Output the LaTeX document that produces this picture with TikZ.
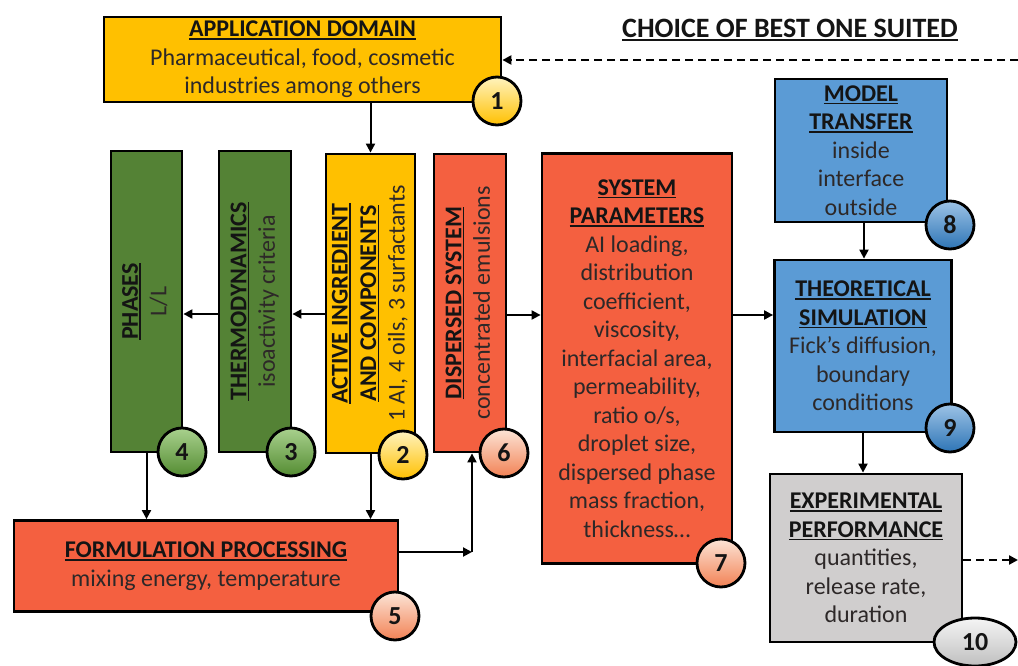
\documentclass[tikz,border=0pt]{standalone}
\usepackage{fontspec}
\usepackage{graphicx}
\setmainfont{Carlito}
\usetikzlibrary{arrows.meta,shapes.geometric}
\definecolor{gold}{RGB}{255,192,0}
\definecolor{goldL}{RGB}{255,243,190}
\definecolor{grn}{RGB}{84,130,53}
\definecolor{grnL}{RGB}{169,209,142}
\definecolor{grnD}{RGB}{84,140,50}
\definecolor{org}{RGB}{244,96,64}
\definecolor{orgL}{RGB}{252,228,214}
\definecolor{orgD}{RGB}{242,130,85}
\definecolor{blu}{RGB}{91,155,213}
\definecolor{bluL}{RGB}{157,195,230}
\definecolor{bluD}{RGB}{46,117,182}
\definecolor{gry}{RGB}{208,206,206}
\definecolor{gryL}{RGB}{245,245,245}
\definecolor{gryD}{RGB}{191,191,191}
\definecolor{bodytxt}{RGB}{45,40,40}
\definecolor{hdtxt}{RGB}{20,20,20}
\newcommand{\bodyfont}{\fontsize{24}{28.5}\selectfont}
\newcommand{\numfont}{\fontsize{26}{30}\selectfont\bfseries}
\newcommand{\hd}[1]{\leavevmode{\color{hdtxt}\setbox0=\hbox{\bfseries #1}\rlap{\rule[-3pt]{\wd0}{1.6pt}}\box0}}
\newcommand{\vt}[1]{\rotatebox{90}{\begin{tabular}{@{}c@{}}#1\end{tabular}}}
\tikzset{
  box/.style={draw=black, line width=2.8pt, inner sep=0pt, align=center, text=bodytxt, font=\bodyfont},
  numc/.style={circle, draw=black, line width=2.8pt, minimum size=48, inner sep=0pt, font=\numfont, text=hdtxt},
  arr/.style={line width=2pt, -{Triangle[length=9pt,width=9pt]}},
  darr/.style={line width=2.4pt, dash pattern=on 8pt off 5pt, -{Triangle[length=9pt,width=9pt]}}
}
\begin{document}
\begin{tikzpicture}[x=1pt,y=-1pt]
\useasboundingbox (0,0) rectangle (1018,666);
% boxes
\node[box, fill=gold, minimum width=397, minimum height=85] (app) at (302.5,59.5)
  {\hd{APPLICATION DOMAIN}\\Pharmaceutical, food, cosmetic\\industries among others};
\node[box, fill=grn, minimum width=71, minimum height=301] (phases) at (146.5,301.5)
  {\vt{\hd{PHASES}\\L/L}};
\node[box, fill=grn, minimum width=72, minimum height=301] (thermo) at (255,301.5)
  {\vt{\hd{THERMODYNAMICS}\\isoactivity criteria}};
\node[box, fill=gold, minimum width=89, minimum height=299] (active) at (370.5,303.5)
  {\vt{\hd{ACTIVE INGREDIENT}\\\hd{AND COMPONENTS}\\1 AI, 4 oils, 3 surfactants}};
\node[box, fill=org, minimum width=72, minimum height=298] (disp) at (470,303)
  {\vt{\hd{DISPERSED SYSTEM}\\concentrated emulsions}};
\node[box, fill=org, minimum width=190, minimum height=410] (sys) at (637,358.5)
  {\hd{SYSTEM}\\\hd{PARAMETERS}\\AI loading,\\distribution\\coefficient,\\viscosity,\\interfacial area,\\permeability,\\ratio o/s,\\droplet size,\\dispersed phase\\mass fraction,\\thickness\dots};
\node[box, fill=blu, minimum width=172, minimum height=143] (model) at (861,150.5)
  {\hd{MODEL}\\\hd{TRANSFER}\\inside\\interface\\outside};
\node[box, fill=blu, minimum width=177, minimum height=172] (theo) at (863,346)
  {\hd{THEORETICAL}\\\hd{SIMULATION}\\Fick’s diffusion,\\boundary\\conditions};
\node[box, fill=gry, minimum width=192, minimum height=168] (exp) at (866,558)
  {\hd{EXPERIMENTAL}\\\hd{PERFORMANCE}\\quantities,\\release rate,\\duration};
\node[box, fill=org, minimum width=384, minimum height=91] (form) at (206,566)
  {\hd{FORMULATION PROCESSING}\\mixing energy, temperature};
% title
\node[font=\fontsize{28}{32}\selectfont, text=black] (title) at (790,30) {\hd{CHOICE OF BEST ONE SUITED}};
% connectors
\coordinate (lvlA) at (0,314);
\coordinate (lvlB) at (0,315);
\coordinate (corner) at (472,552);
\coordinate (topR) at (1018,60);
\coordinate (expR) at (1018,560);
\draw[arr] (app.south -| active.north) -- (active.north);
\draw[arr] (active.west |- lvlA) -- (thermo.east |- lvlA);
\draw[arr] (thermo.west |- lvlA) -- (phases.east |- lvlA);
\draw[arr] (phases.south) -- (phases.south |- form.north);
\draw[arr] (active.south) -- (active.south |- form.north);
\draw[arr] (form.east |- corner) -- (corner);
\draw[arr] (corner) -- (corner |- disp.south);
\draw[arr] (disp.east |- lvlB) -- (sys.west |- lvlB);
\draw[arr] (sys.east |- lvlB) -- (theo.west |- lvlB);
\draw[arr] (model.south -| 864,0) -- (theo.north -| 864,0);
\draw[arr] (theo.south -| 863,0) -- (exp.north -| 863,0);
\draw[darr] (topR) -- (topR -| app.east);
\draw[darr] (exp.east |- expR) -- (expR);
% numbers
\node[numc, top color=goldL, bottom color=gold] (n1) at (497,101) {1};
\node[numc, top color=goldL, bottom color=gold] (n2) at (403,455) {2};
\node[numc, top color=grnL, bottom color=grnD] (n3) at (291,452) {3};
\node[numc, top color=grnL, bottom color=grnD] (n4) at (182,452) {4};
\node[numc, top color=orgL, bottom color=orgD] (n5) at (395,616) {5};
\node[numc, top color=orgL, bottom color=orgD] (n6) at (504,453) {6};
\node[numc, top color=orgL, bottom color=orgD] (n7) at (721,563) {7};
\node[numc, top color=bluL, bottom color=bluD] (n8) at (950,225) {8};
\node[numc, top color=bluL, bottom color=bluD] (n9) at (950,428) {9};
\node[numc, ellipse, minimum width=82, minimum height=48, top color=gryL, bottom color=gryD] (n10) at (975,642) {10};
\end{tikzpicture}
\end{document}
